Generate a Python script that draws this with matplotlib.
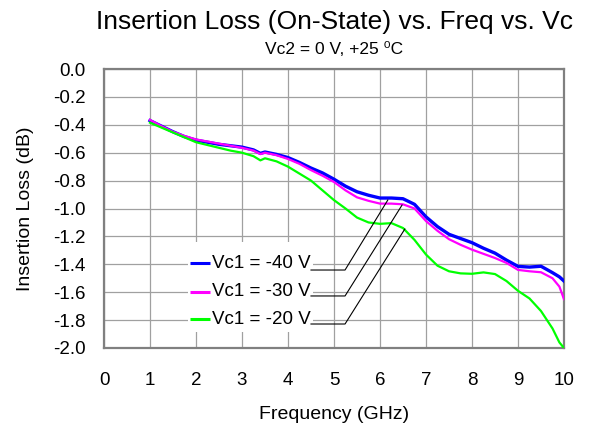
import numpy as np
import matplotlib
matplotlib.use("Agg")
import matplotlib.pyplot as plt
from matplotlib.patches import Rectangle

plt.rcParams["font.family"] = ["Liberation Sans", "DejaVu Sans"]
plt.rcParams["axes.unicode_minus"] = False

# frequency points (GHz)
freq = [1.0, 1.25, 1.5, 1.75, 2.0, 2.25, 2.5, 2.75, 3.0, 3.25, 3.4, 3.5,
        3.75, 4.0, 4.25, 4.5, 4.75, 5.0, 5.25, 5.5, 5.75, 6.0, 6.25, 6.5,
        6.75, 7.0, 7.25, 7.5, 7.75, 8.0, 8.25, 8.5, 8.75, 9.0, 9.25, 9.5,
        9.75, 9.9, 10.0]

# insertion loss (dB) per Vc1 setting
il_40 = [-0.37, -0.41, -0.45, -0.485, -0.51, -0.525, -0.54, -0.55, -0.56,
         -0.58, -0.605, -0.595, -0.612, -0.635, -0.67, -0.71, -0.745, -0.79,
         -0.84, -0.88, -0.905, -0.925, -0.925, -0.93, -0.97, -1.06, -1.13,
         -1.185, -1.215, -1.245, -1.285, -1.32, -1.37, -1.415, -1.42, -1.414,
         -1.46, -1.49, -1.52]
il_30 = [-0.365, -0.41, -0.45, -0.48, -0.505, -0.52, -0.535, -0.55, -0.565,
         -0.585, -0.61, -0.6, -0.618, -0.645, -0.68, -0.725, -0.765, -0.81,
         -0.87, -0.92, -0.945, -0.965, -0.965, -0.97, -1.0, -1.09, -1.16,
         -1.22, -1.26, -1.295, -1.325, -1.355, -1.39, -1.44, -1.45, -1.457,
         -1.5, -1.56, -1.65]
il_20 = [-0.385, -0.42, -0.455, -0.49, -0.525, -0.545, -0.565, -0.585, -0.60,
         -0.625, -0.655, -0.64, -0.662, -0.70, -0.75, -0.80, -0.87, -0.94,
         -1.0, -1.065, -1.10, -1.11, -1.105, -1.14, -1.225, -1.33, -1.41,
         -1.45, -1.465, -1.468, -1.458, -1.47, -1.52, -1.59, -1.645, -1.735,
         -1.86, -1.96, -2.0]

series_labels = ["Vc1 = -40 V", "Vc1 = -30 V", "Vc1 = -20 V"]
series_colors = ["#0000ff", "#ff00ff", "#00ff00"]
series_widths = [2.4, 1.6, 1.6]

# callout: where each leader line meets its curve (GHz, dB)
callout_x = [6.17, 6.48, 6.54]
callout_y = [-0.939, -0.975, -1.147]

yticks = [round(v, 1) + 0.0 for v in np.arange(-2.0, 0.01, 0.2)]

fig = plt.figure(figsize=(5.89, 4.32), dpi=100)
ax = fig.add_axes([104 / 589, 1 - 348 / 432, 460 / 589, 279 / 432])

for y, c, lw in zip([il_40, il_30, il_20], series_colors, series_widths):
    ax.plot(freq, y, color=c, lw=lw, zorder=4, solid_joinstyle="round")

ax.set_xlim(0, 10)
ax.set_ylim(-2.0, 0.0)
ax.set_xticks(np.arange(0, 11, 1))
ax.set_yticks(yticks)
ax.set_yticklabels(["0.0" if v == 0 else f"{v:.1f}" for v in yticks])
ax.grid(True, color="#a0a0a0", lw=0.9, zorder=0)
ax.set_axisbelow(True)
for s in ax.spines.values():
    s.set_color("#808080")
    s.set_linewidth(1.6)
ax.tick_params(length=0, labelsize=13.5)
ax.tick_params(axis="x", pad=17)
ax.tick_params(axis="y", pad=13.5)

ax.set_xlabel("Frequency (GHz)", fontsize=14)
ax.xaxis.set_label_coords(0.5, -0.208)
ax.set_ylabel("Insertion Loss (dB)", fontsize=14)
ax.yaxis.set_label_coords(-0.152, 0.5)

# legend box (white, no border) with leader lines
ax.add_patch(Rectangle((1.826, -1.885), 2.717, 0.645, facecolor="white",
                       edgecolor="none", zorder=2))
legend_y = [-1.393, -1.596, -1.794]
leader_y = [-1.441, -1.627, -1.828]
for lab, c, ly, ky, cx, cy in zip(series_labels, series_colors, legend_y,
                                  leader_y, callout_x, callout_y):
    ax.plot([1.87, 2.30], [ly, ly], color=c, lw=2.2, zorder=3,
            solid_capstyle="butt")
    ax.text(2.34, ly, lab, fontsize=13.5, va="center", ha="left", zorder=3)
    ax.plot([4.50, 5.24, cx], [ky, ky, cy], color="black", lw=0.8, zorder=5)

fig.text(334 / 589, 1 - 29.5 / 432, "Insertion Loss (On-State) vs. Freq vs. Vc",
         fontsize=19, ha="center", va="baseline")
fig.text(334 / 589, 1 - 53.5 / 432, "Vc2 = 0 V, +25 \u2070C",
         fontsize=12.5, ha="center", va="baseline")

fig.savefig("out.png", dpi=100, facecolor="white")
